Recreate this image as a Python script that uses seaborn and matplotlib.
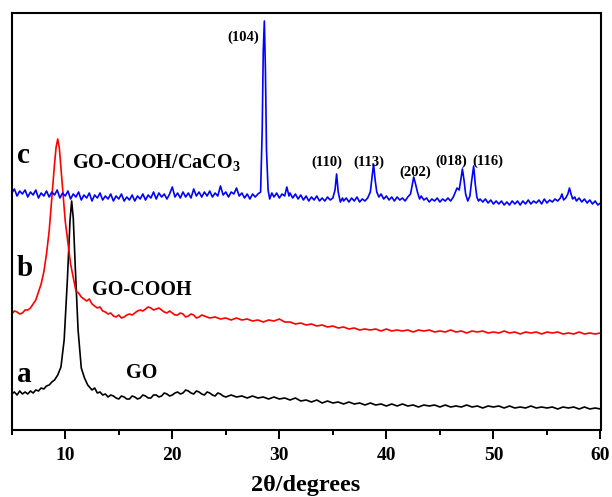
import matplotlib
matplotlib.use("Agg")
import matplotlib.pyplot as plt
import seaborn as sns
import pandas as pd
from matplotlib.ticker import MultipleLocator

# ---------------- data (intensity in arbitrary units) -------------
# (2θ, intensity) points for each pattern
points_a = [
    (5.0, 36), (5.25, 38), (5.5, 35), (5.75, 39), (6.0, 36), (6.25, 38), (6.5, 36), (6.75, 39),
    (7.0, 37), (7.25, 40), (7.5, 39), (7.75, 42), (8.0, 41), (8.25, 44), (8.5, 45), (8.75, 48),
    (9.0, 50), (9.3, 55), (9.6, 63), (9.9, 90), (10.2, 150), (10.45, 210), (10.6, 229),
    (10.75, 212), (10.95, 160), (11.2, 100), (11.5, 62), (11.8, 52), (12.1, 45),
    (12.5, 40), (12.75, 42), (13.0, 37), (13.25, 38), (13.5, 35), (13.75, 36), (14.0, 33),
    (14.25, 35), (14.5, 34), (14.75, 32), (15.0, 31), (15.25, 34), (15.5, 33), (15.75, 31),
    (16.0, 31), (16.25, 34), (16.5, 33), (16.75, 31), (17.0, 32), (17.25, 35), (17.5, 34),
    (17.75, 32), (18.0, 32), (18.25, 35), (18.5, 35), (18.75, 33), (19.0, 34), (19.25, 37),
    (19.5, 36), (19.75, 34), (20.0, 35), (20.25, 37), (20.5, 38), (20.75, 36), (21.0, 37),
    (21.25, 40), (21.5, 39), (21.75, 37), (22.0, 36), (22.25, 39), (22.5, 38), (22.75, 36),
    (23.0, 35), (23.25, 38), (23.5, 37), (23.75, 35), (24.0, 34), (24.25, 37), (24.5, 36),
    (24.75, 34), (25.0, 33), (25.5, 35), (26.0, 33), (26.5, 34), (27.0, 32), (27.5, 34),
    (28.0, 32), (28.5, 33), (29.0, 31), (29.5, 33), (30.0, 31), (30.5, 32), (31.0, 30),
    (31.5, 32), (32.0, 29), (32.5, 30), (33.0, 28), (33.5, 30), (34.0, 27), (34.5, 29),
    (35.0, 27), (35.5, 28), (36.0, 26), (36.5, 28), (37.0, 26), (37.5, 27), (38.0, 25),
    (38.5, 27), (39.0, 25), (39.5, 26), (40.0, 24), (40.5, 26), (41.0, 24), (41.5, 26),
    (42.0, 24), (42.5, 25), (43.0, 23), (43.5, 25), (44.0, 24), (44.5, 25), (45.0, 23),
    (45.5, 25), (46.0, 23), (46.5, 24), (47.0, 23), (47.5, 25), (48.0, 23), (48.5, 24),
    (49.0, 22), (49.5, 24), (50.0, 23), (50.5, 24), (51.0, 22), (51.5, 24), (52.0, 22),
    (52.5, 23), (53.0, 22), (53.5, 24), (54.0, 22), (54.5, 23), (55.0, 22), (55.5, 23),
    (56.0, 21), (56.5, 23), (57.0, 22), (57.5, 23), (58.0, 21), (58.5, 23), (59.0, 21),
    (59.5, 22), (60.0, 21),
]

points_b = [
    (5.0, 116), (5.25, 119), (5.5, 118), (5.75, 116), (6.0, 117), (6.25, 120), (6.5, 120),
    (6.75, 122), (7.0, 126), (7.25, 130), (7.5, 138), (7.75, 146), (8.0, 158), (8.25, 176),
    (8.5, 199), (8.8, 240), (9.0, 266), (9.15, 283), (9.3, 291), (9.45, 282), (9.7, 249),
    (10.0, 209), (10.5, 166), (11.0, 139), (11.25, 137), (11.5, 133), (11.75, 131),
    (12.0, 129), (12.25, 131), (12.5, 126), (12.75, 124), (13.0, 122), (13.25, 123),
    (13.5, 119), (13.75, 118), (14.0, 116), (14.25, 117), (14.5, 114), (14.75, 113),
    (15.0, 115), (15.25, 112), (15.5, 113), (15.75, 115), (16.0, 116), (16.25, 115),
    (16.5, 117), (16.75, 119), (17.0, 120), (17.25, 119), (17.5, 121), (17.75, 123),
    (18.0, 122), (18.25, 120), (18.5, 121), (18.75, 122), (19.0, 120), (19.25, 118),
    (19.5, 117), (19.75, 119), (20.0, 117), (20.25, 115), (20.5, 115), (20.75, 117),
    (21.0, 116), (21.25, 113), (21.5, 114), (21.75, 116), (22.0, 115), (22.25, 112),
    (22.5, 113), (22.75, 115), (23.0, 114), (23.5, 112), (24.0, 113), (24.5, 111),
    (25.0, 112), (25.5, 110), (26.0, 112), (26.5, 110), (27.0, 111), (27.5, 109),
    (28.0, 110), (28.5, 108), (29.0, 110), (29.5, 109), (30.0, 111), (30.5, 108),
    (31.0, 108), (31.5, 106), (32.0, 107), (32.5, 105), (33.0, 106), (33.5, 104),
    (34.0, 105), (34.5, 103), (35.0, 104), (35.5, 102), (36.0, 103), (36.5, 101),
    (37.0, 102), (37.5, 100), (38.0, 101), (38.5, 100), (39.0, 101), (39.5, 99),
    (40.0, 101), (40.5, 99), (41.0, 100), (41.5, 99), (42.0, 100), (42.5, 98), (43.0, 100),
    (43.5, 99), (44.0, 100), (44.5, 98), (45.0, 99), (45.5, 98), (46.0, 100), (46.5, 98),
    (47.0, 99), (47.5, 97), (48.0, 99), (48.5, 98), (49.0, 99), (49.5, 97), (50.0, 98),
    (50.5, 97), (51.0, 99), (51.5, 97), (52.0, 98), (52.5, 96), (53.0, 98), (53.5, 97),
    (54.0, 98), (54.5, 96), (55.0, 98), (55.5, 97), (56.0, 98), (56.5, 96), (57.0, 97),
    (57.5, 96), (58.0, 98), (58.5, 96), (59.0, 97), (59.5, 96), (60.0, 97),
]

points_c = [
    (5.0, 237), (5.25, 241), (5.5, 234), (5.75, 239), (6.0, 236), (6.25, 240), (6.5, 233),
    (6.75, 238), (7.0, 235), (7.25, 240), (7.5, 232), (7.75, 237), (8.0, 234), (8.25, 239),
    (8.5, 233), (8.75, 238), (9.0, 235), (9.25, 240), (9.5, 232), (9.75, 237), (10.0, 234),
    (10.25, 239), (10.5, 231), (10.75, 236), (11.0, 233), (11.25, 238), (11.5, 230),
    (11.75, 235), (12.0, 232), (12.25, 237), (12.5, 229), (12.75, 235), (13.0, 232),
    (13.25, 237), (13.5, 230), (13.75, 234), (14.0, 231), (14.25, 236), (14.5, 229),
    (14.75, 234), (15.0, 231), (15.25, 236), (15.5, 229), (15.75, 233), (16.0, 230),
    (16.25, 235), (16.5, 229), (16.75, 234), (17.0, 231), (17.25, 236), (17.5, 230),
    (17.75, 235), (18.0, 232), (18.25, 238), (18.5, 231), (18.75, 237), (19.0, 233),
    (19.25, 236), (19.5, 231), (19.75, 236), (20.0, 243), (20.25, 233), (20.5, 237),
    (20.75, 232), (21.0, 238), (21.25, 233), (21.5, 237), (21.75, 232), (22.0, 241),
    (22.25, 234), (22.5, 238), (22.75, 233), (23.0, 238), (23.25, 234), (23.5, 239),
    (23.75, 233), (24.0, 237), (24.25, 234), (24.5, 244), (24.75, 235), (25.0, 238),
    (25.25, 233), (25.5, 238), (25.75, 236), (26.0, 242), (26.25, 234), (26.5, 237),
    (26.75, 232), (27.0, 236), (27.25, 231), (27.5, 236), (27.75, 233), (28.0, 236),
    (28.25, 238), (28.4, 300), (28.5, 380), (28.6, 409), (28.7, 360), (28.8, 280),
    (28.95, 240), (29.1, 231), (29.3, 237), (29.5, 233), (29.75, 237), (30.0, 232),
    (30.25, 236), (30.5, 234), (30.7, 243), (30.9, 234), (31.0, 237), (31.25, 232),
    (31.5, 236), (31.75, 231), (32.0, 235), (32.25, 230), (32.5, 234), (32.75, 229),
    (33.0, 233), (33.25, 230), (33.5, 234), (33.75, 229), (34.0, 232), (34.25, 229),
    (34.5, 233), (34.75, 230), (35.0, 232), (35.2, 240), (35.35, 256), (35.5, 238),
    (35.7, 228), (35.9, 232), (36.0, 229), (36.25, 232), (36.5, 228), (36.75, 232),
    (37.0, 229), (37.25, 233), (37.5, 228), (37.75, 231), (38.0, 229), (38.25, 232),
    (38.5, 238), (38.65, 252), (38.8, 266), (38.95, 250), (39.1, 238), (39.3, 233),
    (39.5, 236), (39.75, 231), (40.0, 234), (40.25, 230), (40.5, 233), (40.75, 229),
    (41.0, 233), (41.25, 230), (41.5, 232), (41.75, 229), (42.0, 233), (42.25, 236),
    (42.4, 244), (42.55, 253), (42.7, 247), (42.9, 238), (43.1, 231), (43.25, 234),
    (43.5, 230), (43.75, 232), (44.0, 228), (44.25, 231), (44.5, 229), (44.75, 232),
    (45.0, 228), (45.25, 231), (45.5, 229), (45.75, 232), (46.0, 229), (46.25, 233),
    (46.45, 238), (46.6, 242), (46.8, 240), (46.95, 250), (47.1, 261), (47.25, 250),
    (47.4, 236), (47.6, 229), (47.8, 234), (47.95, 248), (48.15, 264), (48.3, 246),
    (48.45, 233), (48.6, 229), (48.75, 231), (49.0, 228), (49.25, 231), (49.5, 227),
    (49.75, 230), (50.0, 226), (50.25, 229), (50.5, 226), (50.75, 229), (51.0, 225),
    (51.25, 228), (51.5, 225), (51.75, 229), (52.0, 226), (52.25, 229), (52.5, 225),
    (52.75, 229), (53.0, 226), (53.25, 230), (53.5, 226), (53.75, 229), (54.0, 227),
    (54.25, 230), (54.5, 226), (54.75, 231), (55.0, 227), (55.25, 230), (55.5, 228),
    (55.75, 231), (56.0, 229), (56.25, 232), (56.4, 236), (56.55, 230), (56.75, 232),
    (56.95, 236), (57.1, 242), (57.25, 236), (57.4, 231), (57.6, 233), (57.75, 229),
    (58.0, 232), (58.25, 228), (58.5, 231), (58.75, 227), (59.0, 230), (59.25, 226),
    (59.5, 229), (59.75, 225), (60.0, 227),
]

curve_letters = ["a", "b", "c"]
curve_names = ["GO", "GO-COOH", "GO-COOH/CaCO$_3$"]
curve_colors = ["#000000", "#ff0000", "#0000ff"]

peak_labels = ["(104)", "(110)", "(113)", "(202)", "(018)", "(116)"]
peak_label_x = [26.6, 34.4, 38.4, 42.7, 46.1, 49.5]
peak_label_y = [392, 267, 267, 257, 268, 268]

x_ticks = [10, 20, 30, 40, 50, 60]
x_label = "2θ/degrees"

# ---------------- plotting -------------
sns.set_theme(style="ticks")
plt.rcParams["font.family"] = ["Liberation Serif", "DejaVu Serif"]
plt.rcParams["mathtext.fontset"] = "custom"
plt.rcParams["mathtext.rm"] = "Liberation Serif:bold"
plt.rcParams["mathtext.it"] = "Liberation Serif:bold"
plt.rcParams["mathtext.bf"] = "Liberation Serif:bold"
plt.rcParams["text.color"] = "black"
plt.rcParams["axes.labelcolor"] = "black"
plt.rcParams["xtick.color"] = "black"
plt.rcParams["ytick.color"] = "black"

fig = plt.figure(figsize=(6.12, 4.97), dpi=100)
ax = fig.add_axes([11.7 / 612, (497 - 430) / 497, (600.5 - 11.7) / 612, (430 - 13) / 497])

for pts, col in zip([points_a, points_b, points_c], curve_colors):
    df = pd.DataFrame(pts, columns=["x", "y"])
    sns.lineplot(data=df, x="x", y="y", ax=ax, color=col, linewidth=1.2,
                 estimator=None, sort=False)

ax.set_xlim(5, 60)
ax.set_ylim(0, 417)
ax.set_yticks([])
ax.set_ylabel("")
ax.set_xticks(x_ticks)
ax.set_xticklabels([str(t) for t in x_ticks], fontsize=14, fontweight="bold")
ax.xaxis.set_minor_locator(MultipleLocator(5))
ax.tick_params(axis="x", which="major", direction="out", length=6.5, width=1.4, pad=5.5)
ax.tick_params(axis="x", which="minor", direction="out", length=3.3, width=1.4)
for sp in ax.spines.values():
    sp.set_visible(True)
    sp.set_linewidth(1.5)
    sp.set_color("black")
ax.set_xlabel(x_label, fontsize=17.5, fontweight="bold", labelpad=8)

# curve letters
letter_y = [55, 162, 275]
for letter, ly in zip(curve_letters, letter_y):
    ax.text(5.5, ly, letter, fontsize=21, fontweight="bold", ha="left", va="center")

# curve names
name_x = [15.7, 12.5, 10.6]
name_y = [57, 140, 268]
for name, nx, ny in zip(curve_names, name_x, name_y):
    ax.text(nx, ny, name, fontsize=14.5, fontweight="bold", ha="left", va="center")

# peak labels
for lab, px, py in zip(peak_labels, peak_label_x, peak_label_y):
    ax.text(px, py + 1, lab, fontsize=10.5, fontweight="bold", ha="center", va="center")

fig.savefig("out.png", dpi=100)
